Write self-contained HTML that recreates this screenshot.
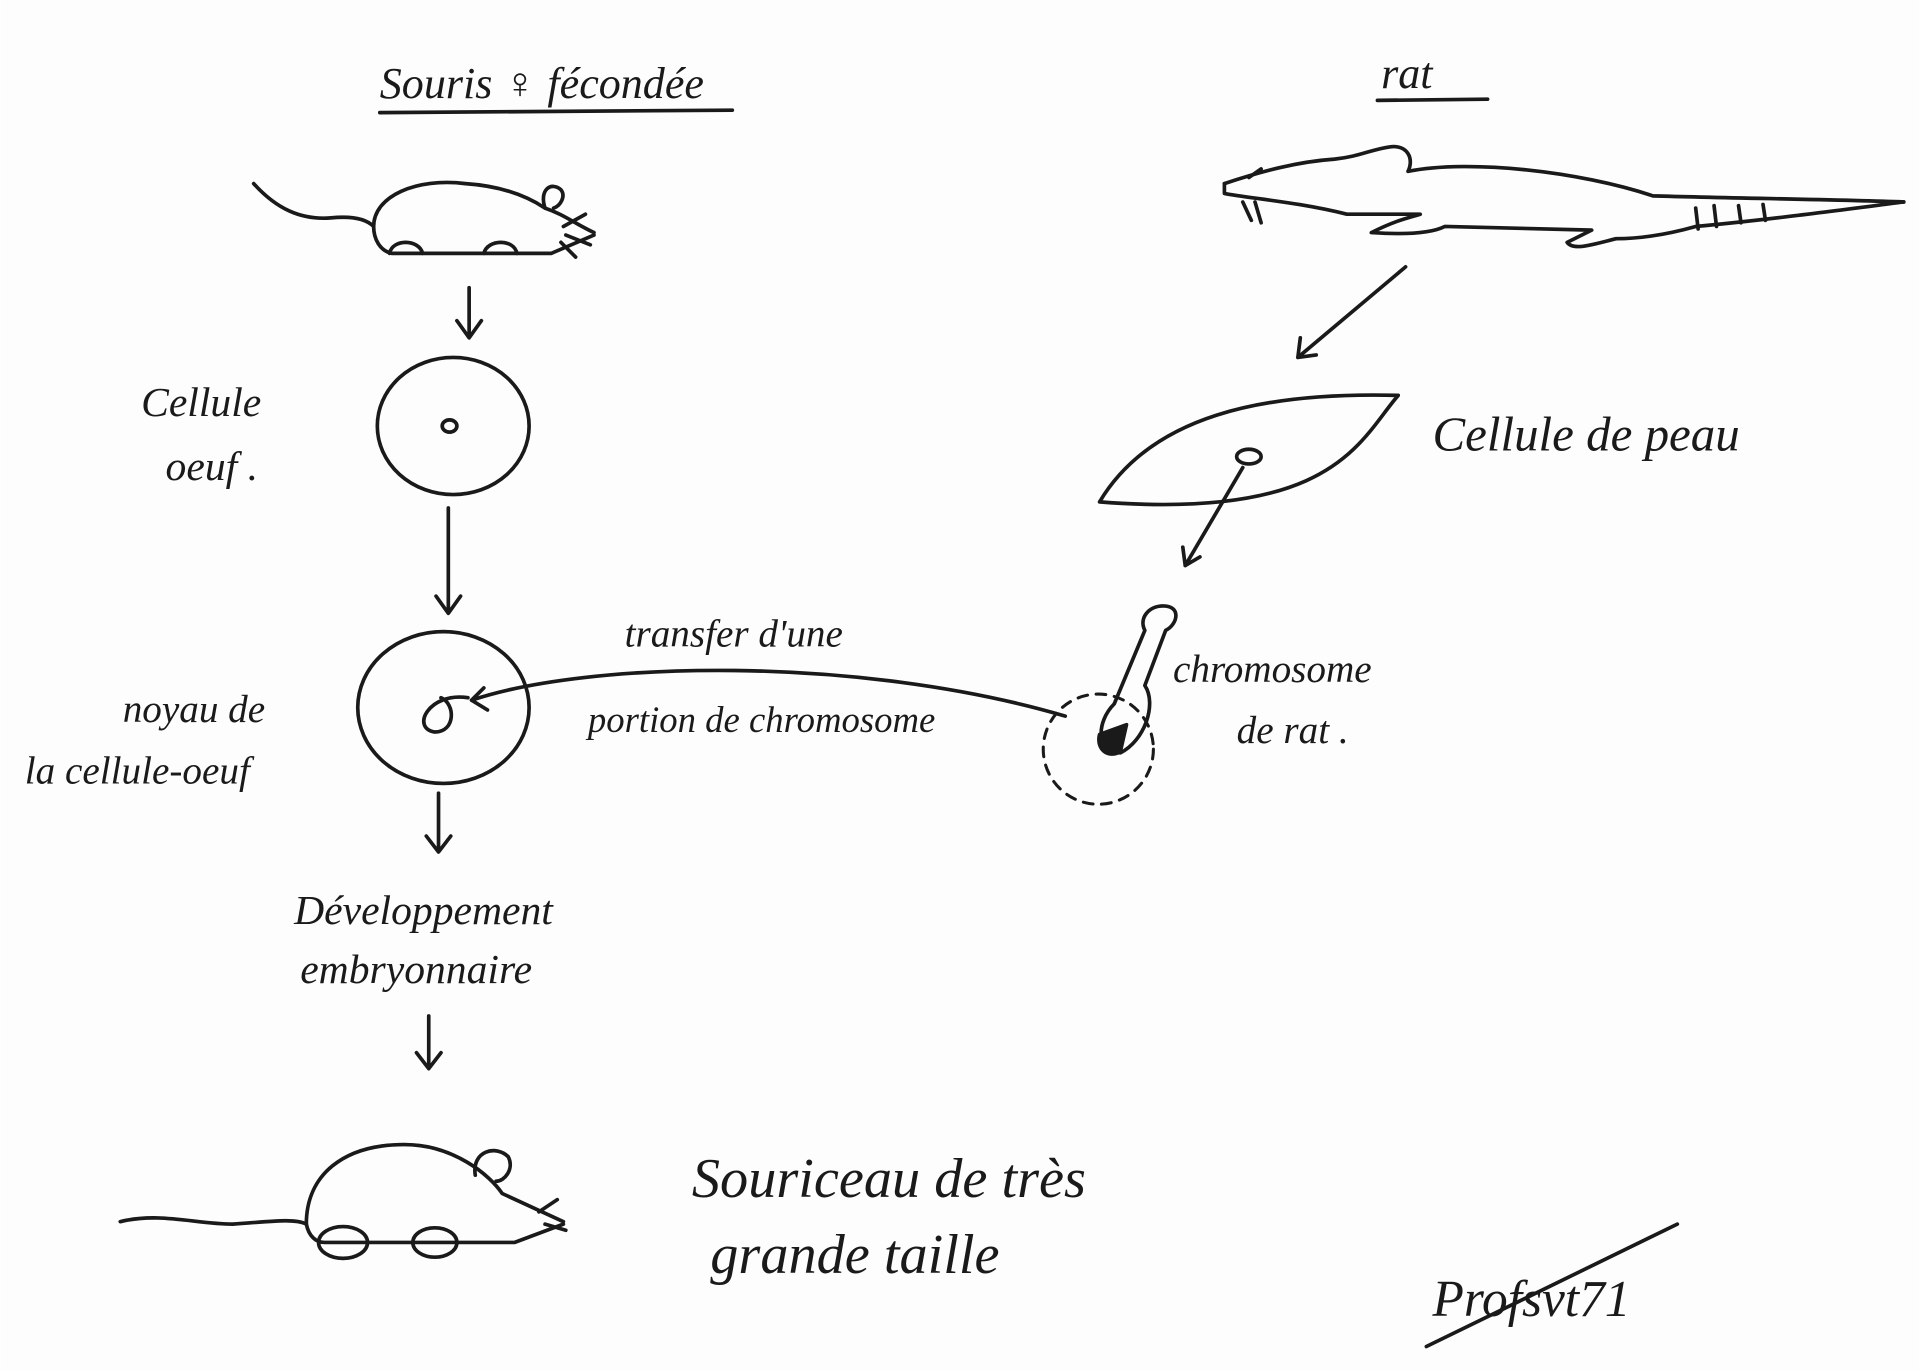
<!DOCTYPE html>
<html><head><meta charset="utf-8"><style>
html,body{margin:0;padding:0;background:#fff;}
svg{display:block;}
text{font-family:"Liberation Serif",serif;font-style:italic;fill:#1a1a1a;}
</style></head><body>
<svg width="1920" height="1371" viewBox="0 0 1568 1120" xmlns="http://www.w3.org/2000/svg">
<rect width="1568" height="1120" fill="#fdfdfd"/>
<g fill="none" stroke="#1a1a1a" stroke-width="3" stroke-linecap="round" stroke-linejoin="round">
<path d="M310 92 L598 90"/>
<path d="M1125 82 L1215 81"/>
<!-- top mouse -->
<path d="M207 150 C225 170 245 180 270 178 C290 176 300 180 305 185"/>
<path d="M305 185 C305 160 340 145 380 150 C410 152 430 160 445 170 C460 175 470 183 485 190"/>
<path d="M305 185 C305 195 310 205 320 207 L450 207 L485 192"/>
<path d="M445 170 C440 155 450 148 458 155 C462 160 458 168 452 170"/>
<path d="M318 207 C320 195 342 195 345 207"/>
<path d="M395 207 C398 195 420 195 422 207"/>
<path d="M460 185 L478 175 M462 192 L482 200 M458 198 L470 210"/>
<!-- arrows left column -->
<path d="M383 235 L383 275 M373 262 L383 276 L393 262"/>
<ellipse cx="370" cy="348" rx="62" ry="56"/>
<ellipse cx="367" cy="348" rx="6" ry="5"/>
<path d="M366 415 L366 500 M356 487 L366 501 L376 487"/>
<ellipse cx="362" cy="578" rx="70" ry="62"/>
<path d="M382 570 C350 565 335 595 355 598 C372 598 372 575 360 570"/>
<path d="M358 648 L358 695 M348 683 L358 696 L368 683"/>
<path d="M350 830 L350 872 M340 860 L350 873 L360 860"/>
<!-- transfer line -->
<path d="M385 572 C480 540 700 535 870 585"/>
<path d="M395 562 L385 572 L398 580"/>
<!-- rat -->
<path d="M1000 150 C1030 140 1060 132 1090 130 C1110 128 1120 122 1135 120 C1150 118 1155 130 1150 140 C1200 130 1290 140 1350 160 C1420 162 1500 163 1555 165"/>
<path d="M1555 165 C1500 172 1440 180 1385 185 C1360 192 1340 195 1320 195 C1300 200 1285 205 1280 198 L1300 188 L1180 185 C1170 190 1150 192 1120 190 C1140 180 1150 178 1160 175 L1100 175 C1060 165 1020 162 1000 158 L1000 150"/>
<path d="M1385 170 L1387 187 M1400 168 L1402 185 M1420 168 L1422 182 M1440 167 L1442 180"/>
<path d="M1020 145 L1030 138 M1015 165 L1022 180 M1025 165 L1030 182"/>
<path d="M1148 218 L1060 292 M1062 276 L1060 292 L1075 290"/>
<!-- skin cell -->
<path d="M898 410 C940 340 1030 320 1142 323 C1110 360 1090 425 898 410 Z"/>
<ellipse cx="1020" cy="373" rx="10" ry="6"/>
<path d="M1015 382 L968 462 M966 447 L968 462 L980 455"/>
<!-- chromosome -->
<path d="M950 495 C965 495 962 510 952 515 L935 560 C945 575 935 605 915 615 C895 615 895 590 910 575 L935 515 C930 505 938 495 950 495 Z"/>
<path d="M898 600 C895 612 905 620 915 614 L920 592 Z" fill="#1a1a1a"/>
<circle cx="897" cy="612" r="45" stroke-dasharray="8 7" stroke-width="2.5"/>
<!-- bottom mouse -->
<path d="M98 998 C130 990 160 1000 190 1000 C220 998 240 995 250 1000"/>
<path d="M250 1000 C250 960 280 935 330 935 C370 935 400 960 410 975 L460 998"/>
<path d="M250 1000 C252 1010 258 1015 265 1015 L420 1015 L460 1000"/>
<path d="M388 960 C385 940 405 935 415 945 C420 955 412 965 405 965"/>
<ellipse cx="280" cy="1015" rx="20" ry="13"/>
<ellipse cx="355" cy="1015" rx="18" ry="12"/>
<path d="M440 990 L455 980 M445 1000 L462 1005"/>
<path d="M1165 1100 L1370 1000"/>
</g>
<g>
<text x="310" y="80" font-size="36">Souris ♀ fécondée</text>
<text x="1128" y="72" font-size="36">rat</text>
<text x="115" y="340" font-size="34">Cellule</text>
<text x="135" y="392" font-size="34">oeuf .</text>
<text x="100" y="590" font-size="32">noyau de</text>
<text x="20" y="640" font-size="32">la cellule-oeuf</text>
<text x="510" y="528" font-size="32">transfer d'une</text>
<text x="480" y="598" font-size="30">portion de chromosome</text>
<text x="958" y="557" font-size="32">chromosome</text>
<text x="1010" y="607" font-size="32">de rat .</text>
<text x="1170" y="368" font-size="40">Cellule de peau</text>
<text x="240" y="755" font-size="34">Développement</text>
<text x="245" y="803" font-size="34">embryonnaire</text>
<text x="565" y="978" font-size="46">Souriceau de très</text>
<text x="580" y="1040" font-size="46">grande taille</text>
<text x="1170" y="1075" font-size="42">Profsvt71</text>
</g>
</svg>
</body></html>
